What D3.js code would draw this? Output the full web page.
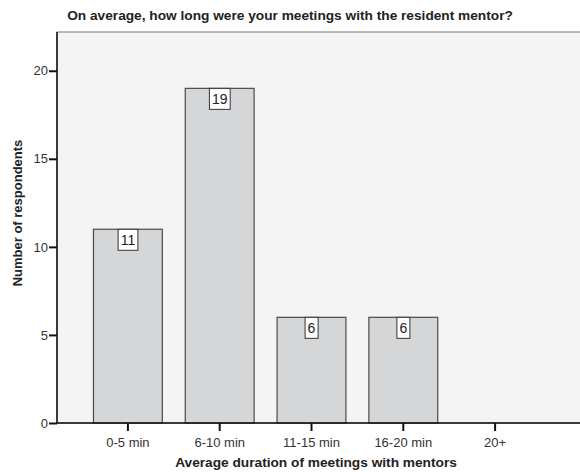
<!DOCTYPE html>
<html>
<head>
<meta charset="utf-8">
<script src="https://cdn.jsdelivr.net/npm/d3@7"></script>
<style>
  body { margin: 0; background: #fff; }
  svg { display: block; font-family: Arial, "Liberation Sans", sans-serif; }
</style>
</head>
<body>
<div id="chart"></div>
<script>
const categories = ["0-5 min", "6-10 min", "11-15 min", "16-20 min", "20+"];
const counts = [11, 19, 6, 6, 0];
const yTicks = [0, 5, 10, 15, 20];

const width = 580, height = 472;
const plotLeft = 57, plotRight = 592, plotTop = 32, plotBottom = 423;

const svg = d3.select("#chart")
  .append("svg")
  .attr("width", width)
  .attr("height", height);

// plot background
svg.append("rect")
  .attr("x", plotLeft)
  .attr("y", plotTop)
  .attr("width", plotRight - plotLeft)
  .attr("height", plotBottom - plotTop)
  .attr("fill", "#f4f4f4")
  .attr("stroke", "#777")
  .attr("stroke-width", 1);

const x = d3.scaleBand()
  .domain(categories)
  .range([82, 541])
  .paddingInner(0.25)
  .paddingOuter(0.125);

const y = d3.scaleLinear()
  .domain([0, 22.2])
  .range([plotBottom, plotTop]);

const data = categories.map((c, i) => ({ cat: c, value: counts[i] }));

// bars
svg.append("g")
  .selectAll("rect")
  .data(data.filter(d => d.value > 0))
  .join("rect")
  .attr("x", d => x(d.cat))
  .attr("y", d => y(d.value))
  .attr("width", x.bandwidth())
  .attr("height", d => y(0) - y(d.value))
  .attr("fill", "#d5d6d8")
  .attr("stroke", "#4a4a4a")
  .attr("stroke-width", 1.2);

// value labels in white boxes
const labels = svg.append("g")
  .selectAll("g")
  .data(data.filter(d => d.value > 0))
  .join("g")
  .attr("transform", d => `translate(${x(d.cat) + x.bandwidth() / 2},${y(d.value)})`);

labels.append("text")
  .attr("text-anchor", "middle")
  .attr("y", 16)
  .attr("font-size", 14)
  .attr("fill", "#222")
  .text(d => d.value)
  .each(function () {
    const b = this.getBBox();
    d3.select(this.parentNode).insert("rect", "text")
      .attr("x", b.x - 2.5)
      .attr("y", 0)
      .attr("width", b.width + 5)
      .attr("height", 21)
      .attr("fill", "#fff")
      .attr("stroke", "#333")
      .attr("stroke-width", 1);
  });

// y axis
const yAxis = svg.append("g")
  .attr("transform", `translate(${plotLeft},0)`)
  .call(d3.axisLeft(y).tickValues(yTicks).tickSize(8).tickPadding(1));
yAxis.select(".domain").attr("stroke", "#111").attr("stroke-width", 1.5)
  .attr("d", `M0,${plotTop}V${plotBottom}`);
yAxis.selectAll(".tick line").attr("stroke", "#111").attr("stroke-width", 2);
yAxis.selectAll(".tick text").attr("font-size", 13).attr("fill", "#333")
  .attr("font-family", "Arial, 'Liberation Sans', sans-serif");

// x axis
const xAxis = svg.append("g")
  .attr("transform", `translate(0,${plotBottom})`)
  .call(d3.axisBottom(x).tickSize(8).tickPadding(7));
xAxis.select(".domain").attr("stroke", "#111").attr("stroke-width", 1.5)
  .attr("d", `M${plotLeft},0H${plotRight}`);
xAxis.selectAll(".tick line").attr("stroke", "#111").attr("stroke-width", 2);
xAxis.selectAll(".tick text").attr("font-size", 13).attr("fill", "#333")
  .attr("font-family", "Arial, 'Liberation Sans', sans-serif");

// title
svg.append("text")
  .attr("x", 290)
  .attr("y", 20)
  .attr("text-anchor", "middle")
  .attr("font-size", 13.7)
  .attr("font-weight", "bold")
  .attr("fill", "#222")
  .text("On average, how long were your meetings with the resident mentor?");

// axis titles
svg.append("text")
  .attr("transform", "translate(22,213) rotate(-90)")
  .attr("text-anchor", "middle")
  .attr("font-size", 13)
  .attr("font-weight", "bold")
  .attr("fill", "#222")
  .text("Number of respondents");

svg.append("text")
  .attr("x", 316)
  .attr("y", 467)
  .attr("text-anchor", "middle")
  .attr("font-size", 13.7)
  .attr("font-weight", "bold")
  .attr("fill", "#222")
  .text("Average duration of meetings with mentors");
</script>
</body>
</html>
